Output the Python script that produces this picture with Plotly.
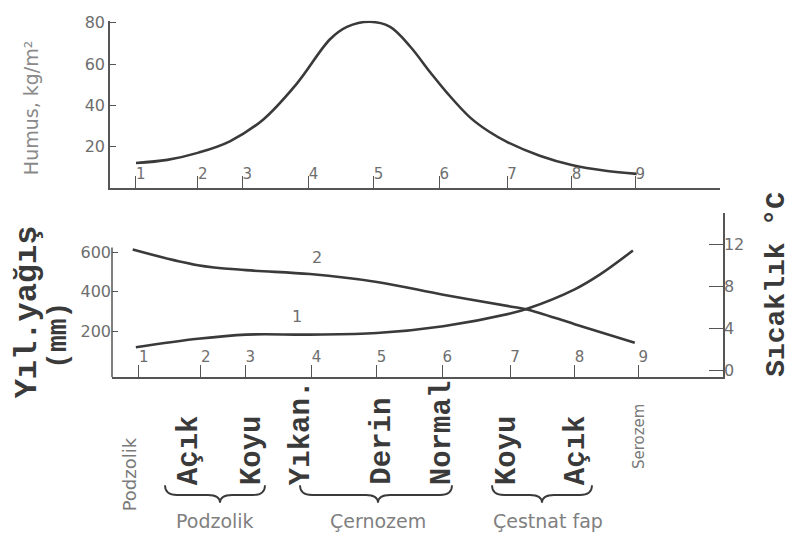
import plotly.graph_objects as go

W, H = 795, 551

# ---- data ----
zone_positions = [0, 0.99, 1.7, 2.76, 3.8, 4.85, 5.93, 6.96, 7.98]
zone_numbers = ["1", "2", "3", "4", "5", "6", "7", "8", "9"]

humus_x = [0, 0.5, 1.0, 1.5, 2.03, 2.57, 3.1, 3.37, 3.74, 4.06, 4.38, 4.7, 4.97, 5.34,
           5.65, 5.94, 6.45, 6.96, 7.5, 8.0]
humus_y = [12, 13.5, 17, 22.5, 33, 50.5, 72, 78, 80.5, 78, 68.5, 56, 46, 34,
           27, 22, 15.5, 11, 8.2, 6.7]

precip_x = [-0.1, 0.94, 1.71, 2.73, 3.8, 4.86, 5.93, 6.2, 6.96, 7.92]
precip_mm = [615, 535, 510, 490, 450, 385, 325, 310, 235, 140]

temp_x = [-0.05, 0.94, 1.71, 2.73, 3.8, 4.86, 5.93, 6.2, 6.96, 7.36, 7.89]
temp_c = [2.2, 3.0, 3.4, 3.4, 3.55, 4.2, 5.4, 5.85, 7.7, 9.1, 11.4]

humus_ticks = [20, 40, 60, 80]
precip_ticks = [200, 400, 600]
temp_ticks = [0, 4, 8, 12]

soil_subtypes = ["Açık", "Koyu", "Yıkan.", "Derin", "Normal", "Koyu", "Açık"]
soil_groups = ["Podzolik", "Çernozem", "Çestnat fap"]
side_soils = ["Podzolik", "Serozem"]

# ---- helpers (pixel -> paper) ----
def fx(p):
    return p / W


def fy(p):
    return 1 - p / H


INK = "#3a3a3a"
AX = "#555555"
GRAY = "#6e6e6e"
MONO = "Liberation Mono"
SANS = "DejaVu Sans"

fig = go.Figure()

# top: humus
fig.add_trace(go.Scatter(x=humus_x, y=humus_y, mode="lines",
                         line=dict(color=INK, width=2.6, shape="spline", smoothing=1.0),
                         xaxis="x", yaxis="y", hoverinfo="skip"))
fig.add_trace(go.Scatter(x=zone_positions, y=[6] * len(zone_positions), mode="text",
                         text=zone_numbers, textposition="middle right",
                         textfont=dict(family=SANS, size=15, color=GRAY),
                         xaxis="x", yaxis="y", hoverinfo="skip"))

# bottom: precipitation (2) and temperature (1)
fig.add_trace(go.Scatter(x=precip_x, y=precip_mm, mode="lines",
                         line=dict(color=INK, width=2.6, shape="spline", smoothing=1.0),
                         xaxis="x2", yaxis="y2", hoverinfo="skip"))
fig.add_trace(go.Scatter(x=temp_x, y=temp_c, mode="lines",
                         line=dict(color=INK, width=2.6, shape="spline", smoothing=1.0),
                         xaxis="x2", yaxis="y3", hoverinfo="skip"))
fig.add_trace(go.Scatter(x=zone_positions, y=[60] * len(zone_positions), mode="text",
                         text=zone_numbers, textposition="middle right",
                         textfont=dict(family=SANS, size=15, color=GRAY),
                         xaxis="x2", yaxis="y2", hoverinfo="skip"))

common_x = dict(showline=True, linecolor=AX, linewidth=1.5, ticks="inside",
                tickvals=zone_positions, ticklen=12, tickcolor=AX, tickwidth=1.2,
                showticklabels=False, showgrid=False, zeroline=False)
common_y = dict(ticks="inside", tickcolor=AX, tickwidth=1.2, ticklen=6,
                tickfont=dict(family=SANS, size=16, color=GRAY),
                showgrid=False, zeroline=False)

fig.update_layout(
    width=W, height=H,
    margin=dict(l=0, r=0, t=0, b=0),
    paper_bgcolor="white", plot_bgcolor="white",
    showlegend=False,
    xaxis=dict(domain=[fx(110), fx(720)], range=[-0.415, 9.33], anchor="y", **common_x),
    yaxis=dict(domain=[fy(184), fy(14)], range=[0, 81], anchor="x",
               showline=True, linecolor=AX, linewidth=1.5,
               tickvals=humus_ticks, **common_y),
    xaxis2=dict(domain=[fx(112), fx(723)], range=[-0.431, 9.329], anchor="y2", **common_x),
    yaxis2=dict(domain=[fy(377), fy(210)], range=[-35, 800], anchor="x2",
                showline=False, tickvals=precip_ticks, **common_y),
    yaxis3=dict(overlaying="y2", side="right", anchor="x2", range=[-0.65, 14.95],
                showline=True, linecolor=AX, linewidth=1.5,
                tickvals=temp_ticks, ticklabelstandoff=-4,
                **{**common_y, "ticklen": 14}),
)

# left axis line of the lower panel (shorter than the right one)
fig.add_shape(type="line", xref="x2 domain", yref="y2", x0=0, x1=0, y0=-35, y1=625,
              line=dict(color=AX, width=1.5))

ann = []
# axis titles
ann.append(dict(text="Humus, kg/m²", x=fx(31), y=fy(103), textangle=-90,
                font=dict(family=SANS, size=19, color="#8a8a8a")))
ann.append(dict(text="<b>Yıl.yağış</b>", x=fx(27), y=fy(311), textangle=-90,
                font=dict(family=MONO, size=32, color=INK)))
ann.append(dict(text="<b>(mm)</b>", x=fx(59), y=fy(335), textangle=-90,
                font=dict(family=MONO, size=28, color=INK)))
ann.append(dict(text="<b>Sıcaklık °C</b>", x=fx(777), y=fy(283), textangle=-90,
                font=dict(family=MONO, size=28, color=INK)))

# curve labels
ann.append(dict(text="2", x=2.84, y=575, xref="x2", yref="y2",
                font=dict(family=SANS, size=16, color=GRAY)))
ann.append(dict(text="1", x=2.53, y=275, xref="x2", yref="y2",
                font=dict(family=SANS, size=16, color=GRAY)))

# soil subtype labels (vertical)
sub_x = [189, 252, 301, 383, 442, 507, 576]
for name, px in zip(soil_subtypes, sub_x):
    ann.append(dict(text="<b>" + name + "</b>", x=fx(px), y=fy(489), textangle=-90,
                    xanchor="center", yanchor="bottom",
                    font=dict(family=MONO, size=29, color=INK)))

side_x = [129, 639]
side_y = [476, 438]
side_size = [18, 15]
for name, px, pyy, sz in zip(side_soils, side_x, side_y, side_size):
    ann.append(dict(text=name, x=fx(px), y=fy(pyy), textangle=-90,
                    font=dict(family=SANS, size=sz, color="#7a7a7a")))

group_x = [215, 378, 548]
for name, px in zip(soil_groups, group_x):
    ann.append(dict(text=name, x=fx(px), y=fy(523),
                    font=dict(family=SANS, size=19, color="#7f7f7f")))

for a in ann:
    a.setdefault("xref", "paper")
    a.setdefault("yref", "paper")
    a.setdefault("xanchor", "center")
    a.setdefault("yanchor", "middle")
    a.setdefault("showarrow", False)
fig.update_layout(annotations=ann)


# curly braces under the subtype groups
def brace(x0, x1, xm, yt, yb, ytip, r=12):
    pts = [
        f"M {fx(x0)},{fy(yt)}",
        f"Q {fx(x0)},{fy(yb)} {fx(x0 + r)},{fy(yb)}",
        f"L {fx(xm - r)},{fy(yb)}",
        f"Q {fx(xm)},{fy(yb)} {fx(xm)},{fy(ytip)}",
        f"Q {fx(xm)},{fy(yb)} {fx(xm + r)},{fy(yb)}",
        f"L {fx(x1 - r)},{fy(yb)}",
        f"Q {fx(x1)},{fy(yb)} {fx(x1)},{fy(yt)}",
    ]
    return " ".join(pts)


for (b0, b1, bm) in [(165, 265, 220), (300, 452, 378), (492, 592, 542)]:
    fig.add_shape(type="path", xref="paper", yref="paper",
                  path=brace(b0, b1, bm, 487, 497, 505),
                  line=dict(color=INK, width=1.8))

fig.write_html("out.html")
